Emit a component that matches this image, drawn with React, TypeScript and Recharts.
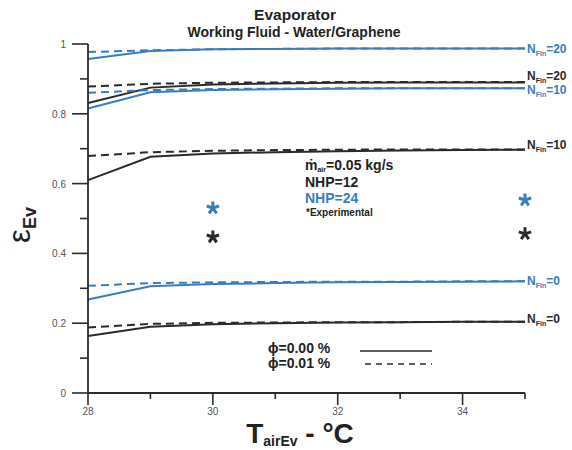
import React from 'react';
import { ComposedChart, Line, XAxis, YAxis, Customized } from 'recharts';

const temps = [28, 29, 30, 31, 32, 33, 34, 35];

const blueSolid20 = [0.957, 0.98, 0.985, 0.986, 0.987, 0.987, 0.987, 0.987];
const blueDash20 = [0.977, 0.982, 0.985, 0.986, 0.987, 0.987, 0.987, 0.987];
const blackDash20 = [0.878, 0.886, 0.889, 0.89, 0.891, 0.891, 0.891, 0.891];
const blackSolid20 = [0.831, 0.875, 0.884, 0.887, 0.889, 0.89, 0.89, 0.89];
const blueDash10 = [0.86, 0.868, 0.871, 0.872, 0.873, 0.873, 0.873, 0.873];
const blueSolid10 = [0.815, 0.862, 0.868, 0.87, 0.872, 0.873, 0.873, 0.873];
const blackDash10 = [0.679, 0.69, 0.694, 0.696, 0.697, 0.698, 0.698, 0.698];
const blackSolid10 = [0.61, 0.677, 0.686, 0.69, 0.693, 0.695, 0.696, 0.697];
const blueDash0 = [0.307, 0.315, 0.317, 0.318, 0.319, 0.319, 0.32, 0.32];
const blueSolid0 = [0.268, 0.306, 0.312, 0.315, 0.317, 0.318, 0.319, 0.32];
const blackDash0 = [0.188, 0.198, 0.201, 0.202, 0.203, 0.203, 0.204, 0.204];
const blackSolid0 = [0.163, 0.19, 0.197, 0.2, 0.202, 0.203, 0.204, 0.204];

const expTemps = [30, 35];
const expNHP12 = [0.447, 0.456];
const expNHP24 = [0.53, 0.553];

const xTicks = [28, 29, 30, 31, 32, 33, 34, 35];
const xTickLabels = ['28', '', '30', '', '32', '', '34', ''];
const yTicks = [0, 0.1, 0.2, 0.3, 0.4, 0.5, 0.6, 0.7, 0.8, 0.9, 1];
const yTickLabels = ['0', '', '0.2', '', '0.4', '', '0.6', '', '0.8', '', '1'];

const BLUE = '#3a7dbf';
const BLACK = '#2a2a2a';
const FONT = '"Liberation Sans", Arial, sans-serif';

type Series = { key: string; values: number[]; color: string; dashed: boolean; label?: string; dy?: number };

const series: Series[] = [
  { key: 'blueSolid20', values: blueSolid20, color: BLUE, dashed: false, label: '20', dy: 0 },
  { key: 'blueDash20', values: blueDash20, color: BLUE, dashed: true },
  { key: 'blackDash20', values: blackDash20, color: BLACK, dashed: true, label: '20', dy: -6 },
  { key: 'blackSolid20', values: blackSolid20, color: BLACK, dashed: false },
  { key: 'blueDash10', values: blueDash10, color: BLUE, dashed: true, label: '10', dy: 2 },
  { key: 'blueSolid10', values: blueSolid10, color: BLUE, dashed: false },
  { key: 'blackDash10', values: blackDash10, color: BLACK, dashed: true, label: '10', dy: -4 },
  { key: 'blackSolid10', values: blackSolid10, color: BLACK, dashed: false },
  { key: 'blueDash0', values: blueDash0, color: BLUE, dashed: true, label: '0', dy: 0 },
  { key: 'blueSolid0', values: blueSolid0, color: BLUE, dashed: false },
  { key: 'blackDash0', values: blackDash0, color: BLACK, dashed: true, label: '0', dy: -3 },
  { key: 'blackSolid0', values: blackSolid0, color: BLACK, dashed: false },
];

const data = temps.map((t, i) => {
  const row: Record<string, number | null> = { t };
  series.forEach((s) => {
    row[s.key] = s.values[i];
  });
  const e = expTemps.indexOf(t);
  row.exp12 = e >= 0 ? expNHP12[e] : null;
  row.exp24 = e >= 0 ? expNHP24[e] : null;
  return row;
});

const XTick = (props: any) => {
  const { x, y, payload } = props;
  const idx = xTicks.indexOf(payload.value);
  const major = idx % 2 === 0;
  return (
    <g>
      <line x1={x} x2={x} y1={y} y2={y + (major ? 12 : 6)} stroke={BLACK} strokeWidth={1.6} />
      {xTickLabels[idx] ? (
        <text x={x} y={y + 22} textAnchor="middle" fontSize={10} fill="#555" fontFamily={FONT}>
          {xTickLabels[idx]}
        </text>
      ) : null}
    </g>
  );
};

const YTick = (props: any) => {
  const { x, y, payload } = props;
  const idx = Math.round(payload.value * 10);
  const major = idx % 2 === 0;
  return (
    <g>
      <line x1={x} x2={x - (major ? 16 : 8)} y1={y} y2={y} stroke={BLACK} strokeWidth={1.6} />
      {yTickLabels[idx] ? (
        <text x={x - 22} y={y + 4} textAnchor="end" fontSize={10} fill="#555" fontFamily={FONT}>
          {yTickLabels[idx]}
        </text>
      ) : null}
    </g>
  );
};

const makeEndDot = (s: Series) => (p: any) => {
  const key = `${s.key}-${p.index}`;
  if (!s.label || p.index !== temps.length - 1) return <g key={key} />;
  return (
    <text key={key} x={p.cx + 2} y={p.cy + 4 + (s.dy || 0)} fontFamily={FONT} fontWeight="bold" fill={s.color} fontSize={12}>
      <tspan>N</tspan>
      <tspan fontSize={7} dy={3}>Fin</tspan>
      <tspan dy={-3}>={s.label}</tspan>
    </text>
  );
};

const makeAsterisk = (color: string) => (p: any) => {
  const key = `ast-${color}-${p.index}`;
  if (p.value == null || p.cy == null || isNaN(p.cy)) return <g key={key} />;
  const { cx, cy } = p;
  const r = 6.5;
  const arms = [90, 18, 162, 234, 306].map((a) => {
    const rad = (a * Math.PI) / 180;
    return `M${cx},${cy} L${cx + r * Math.cos(rad)},${cy - r * Math.sin(rad)}`;
  });
  return <path key={key} d={arms.join(' ')} stroke={color} strokeWidth={3} strokeLinecap="butt" fill="none" />;
};

const Overlay = () => (
  <g fontFamily={FONT}>
    <text x={295} y={20} textAnchor="middle" fontSize={15.5} fontWeight="bold" fill="#222">Evaporator</text>
    <text x={294} y={37} textAnchor="middle" fontSize={14} fontWeight="bold" fill="#222">Working Fluid - Water/Graphene</text>

    <text x={305} y={170} fontSize={14} fontWeight="bold" fill="#222">
      <tspan>ṁ</tspan>
      <tspan fontSize={7} dy={2}>air</tspan>
      <tspan dy={-2}>=0.05 kg/s</tspan>
    </text>
    <text x={305} y={187} fontSize={14} fontWeight="bold" fill="#222">NHP=12</text>
    <text x={305} y={203} fontSize={14} fontWeight="bold" fill={BLUE}>NHP=24</text>
    <text x={306} y={216} fontSize={10} fontWeight="bold" fill="#222">*Experimental</text>

    <text x={268} y={353} fontSize={14} fontWeight="bold" fill="#222">ϕ=0.00 %</text>
    <line x1={360} x2={432} y1={351} y2={351} stroke={BLACK} strokeWidth={1.6} />
    <text x={268} y={368} fontSize={14} fontWeight="bold" fill="#222">ϕ=0.01 %</text>
    <line x1={365} x2={432} y1={364} y2={364} stroke={BLACK} strokeWidth={1.4} strokeDasharray="6 5" />

    <text transform="rotate(-90, 30, 225)" x={30} y={225} textAnchor="middle" fill="#222">
      <tspan fontSize={31}>ε</tspan>
      <tspan fontSize={18} fontWeight="bold" dy={6}>Ev</tspan>
    </text>

    <text x={300} y={443} textAnchor="middle" fill="#222" fontWeight="bold">
      <tspan fontSize={28}>T</tspan>
      <tspan fontSize={14} dy={3}>airEv</tspan>
      <tspan fontSize={28} dy={-3}> - °C</tspan>
    </text>
  </g>
);

export default function App() {
  return (
    <div style={{ position: 'absolute', left: 0, top: 0, width: 572, height: 450, background: '#fff' }}>
      <ComposedChart width={572} height={450} data={data} margin={{ top: 44, right: 47, left: 0, bottom: 0 }}>
        <XAxis
          dataKey="t"
          type="number"
          domain={[28, 35]}
          ticks={xTicks}
          height={57}
          tickSize={0}
          tickMargin={0}
          tickLine={false}
          tick={<XTick />}
          axisLine={{ stroke: BLACK, strokeWidth: 1.8 }}
          interval={0}
        />
        <YAxis
          type="number"
          domain={[0, 1]}
          ticks={yTicks}
          width={88}
          tickSize={0}
          tickMargin={0}
          tickLine={false}
          tick={<YTick />}
          axisLine={{ stroke: BLACK, strokeWidth: 1.8 }}
          interval={0}
        />
        {series.map((s) => (
          <Line
            key={s.key}
            dataKey={s.key}
            type="linear"
            stroke={s.color}
            strokeWidth={2}
            strokeDasharray={s.dashed ? '8 5' : undefined}
            dot={makeEndDot(s)}
            activeDot={false}
            isAnimationActive={false}
          />
        ))}
        <Line dataKey="exp24" stroke="none" dot={makeAsterisk(BLUE)} activeDot={false} isAnimationActive={false} />
        <Line dataKey="exp12" stroke="none" dot={makeAsterisk(BLACK)} activeDot={false} isAnimationActive={false} />
        <Customized component={<Overlay />} />
      </ComposedChart>
    </div>
  );
}
